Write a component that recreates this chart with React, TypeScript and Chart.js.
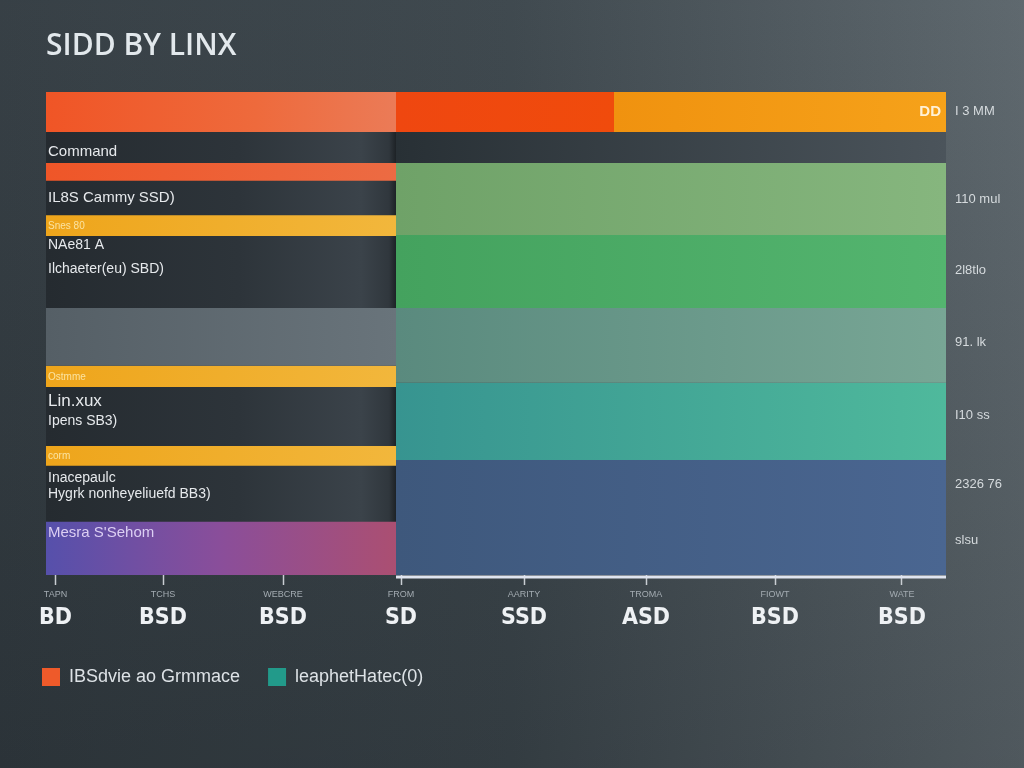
import React, { useEffect, useRef } from 'react';
import { Chart, registerables } from 'chart.js';

Chart.register(...registerables);

// ---------- data ----------
const chartTitle = 'SIDD BY LINX';

const xMin = 0;
const xMax = 90;
const yMin = 0;
const yMax = 100;

// bottom axis ticks
const xTickValues = [0.95, 11.7, 23.7, 35.5, 47.8, 60.0, 72.9, 85.6];
const xSubLabels = ['TAPN', 'TCHS', 'WEBCRE', 'FROM', 'AARITY', 'TROMA', 'FIOWT', 'WATE'];
const xMainLabels = ['BD', 'BSD', 'BSD', 'SD', 'SSD', 'ASD', 'BSD', 'BSD'];

// panels (x extents)
const leftPanelRange = [0, 35];
const rightPanelRange = [35, 90];

// left panel bands (y extents, % of height, top = 0)
const leftBandNames = ['Top', 'Command', 'Snes 80', 'Grey', 'Ostmme', 'corm', 'Mesra'];
const leftBandFrom = [0, 14.7, 25.5, 44.7, 56.7, 73.3, 89.0];
const leftBandTo = [8.3, 18.4, 29.8, 56.7, 61.1, 77.4, 100];

// right panel bands
const rightBandNames = ['IBS', 'IBS 2', 'Dark', '110 mul', '2l8tlo', '91. lk', 'I10 ss', '2326 76'];
const rightBandXFrom = [35, 56.8, 35, 35, 35, 35, 35, 35];
const rightBandXTo = [56.8, 90, 90, 90, 90, 90, 90, 90];
const rightBandFrom = [0, 0, 8.3, 14.7, 29.6, 44.7, 60.2, 76.2];
const rightBandTo = [8.3, 8.3, 14.7, 29.6, 44.7, 60.2, 76.2, 100];

// left labels
const leftLabels = [
  'Command',
  'IL8S Cammy SSD)',
  'Snes 80',
  'NAe81 A',
  'Ilchaeter(eu) SBD)',
  'Ostmme',
  'Lin.xux',
  'Ipens SB3)',
  'corm',
  'Inacepaulc',
  'Hygrk nonheyeliuefd BB3)',
  "Mesra S'Sehom",
];
const leftLabelRows = [12.3, 21.9, 27.7, 31.7, 36.6, 59.0, 64.0, 68.1, 75.4, 79.9, 83.2, 91.3];

// right labels
const rightLabels = ['I 3 MM', '110 mul', '2l8tlo', '91. lk', 'I10 ss', '2326 76', 'slsu'];
const rightLabelRows = [4.1, 22.2, 36.9, 51.8, 66.9, 81.2, 92.8];

const topBarInnerLabel = 'DD';
const baselineRange = [35, 90];
const baselineValue = 100.4;

const legendLabels = ['IBSdvie ao Grmmace', 'leaphetHatec(0)'];

// ---------- styles ----------
type Stop = [number, string];
const leftBaseStops: Stop[] = [[0, '#252b30'], [0.55, '#2d343a'], [0.9, '#3b434a'], [0.98, '#30373d'], [1, '#1d2226']];
const leftBandStops: Stop[][] = [
  [[0, '#f05526'], [0.6, '#ee6a3c'], [1, '#eb7b57']],
  [[0, '#ef5628'], [1, '#ec6b43']],
  [[0, '#eea51b'], [1, '#f2b73c']],
  [[0, '#555f66'], [1, '#69747b']],
  [[0, '#eea51b'], [1, '#f2b73c']],
  [[0, '#eea51b'], [1, '#f2b73c']],
  [[0, '#5650ab'], [0.5, '#8a4e9a'], [1, '#ab4f72']],
];
const rightBandStops: Stop[][] = [
  [[0, '#ef4710'], [1, '#f04b0c']],
  [[0, '#f0920f'], [1, '#f6a21a']],
  [[0, '#283035'], [1, '#4b545b']],
  [[0, '#6fa268'], [1, '#86b67e']],
  [[0, '#44a25e'], [1, '#54b56f']],
  [[0, '#5a8a7e'], [1, '#78a695']],
  [[0, '#379490'], [1, '#4fb99c']],
  [[0, '#3e587c'], [1, '#4a6691']],
];
const legendColors = ['#ee5a2a', '#229a8a'];
const smallLabelIdx = [2, 5, 8];
const leftLabelSizes = [15, 15, 10, 14, 14, 10, 17, 14, 10, 14, 14, 15];

const FAMILY = "'Liberation Sans', Arial, sans-serif";

const grad = (x0: number, x1: number, stops: Stop[]) => (ctx: any) => {
  const chart = ctx.chart;
  const xs = chart.scales && chart.scales.x;
  if (!chart.chartArea || !xs) return stops[0][1];
  const g = chart.ctx.createLinearGradient(xs.getPixelForValue(x0), 0, xs.getPixelForValue(x1), 0);
  stops.forEach(([o, c]) => g.addColorStop(o, c));
  return g;
};

const rect = (label: string, x0: number, x1: number, y0: number, y1: number, stops: Stop[], order = 0) => ({
  type: 'line' as const,
  label,
  data: [
    { x: x0, y: y1 },
    { x: x1, y: y1 },
  ],
  fill: { value: y0 },
  backgroundColor: grad(x0, x1, stops),
  borderColor: 'rgba(0,0,0,0)',
  borderWidth: 0,
  pointRadius: 0,
  pointHoverRadius: 0,
  tension: 0,
  order,
  xAxisID: 'x',
  yAxisID: 'y',
});

const innerLabelPlugin = {
  id: 'innerLabel',
  afterDatasetsDraw(chart: any) {
    const { ctx, scales } = chart;
    const x = scales.x;
    const y = scales.y;
    ctx.save();
    ctx.font = `bold 15px ${FAMILY}`;
    ctx.fillStyle = '#fff1d6';
    ctx.textAlign = 'right';
    ctx.textBaseline = 'middle';
    ctx.fillText(topBarInnerLabel, x.getPixelForValue(xMax) - 5, y.getPixelForValue(rightLabelRows[0]));
    ctx.restore();
  },
};

export default function App() {
  const ref = useRef<HTMLCanvasElement | null>(null);

  useEffect(() => {
    if (!ref.current) return;
    Chart.defaults.font.family = FAMILY;

    const datasets: any[] = [];
    leftBandNames.forEach((n, i) => {
      datasets.push(rect(n, leftPanelRange[0], leftPanelRange[1], leftBandFrom[i], leftBandTo[i], leftBandStops[i]));
    });
    rightBandNames.forEach((n, i) => {
      datasets.push(rect(n, rightBandXFrom[i], rightBandXTo[i], rightBandFrom[i], rightBandTo[i], rightBandStops[i]));
    });
    datasets.push(rect('Left panel', leftPanelRange[0], leftPanelRange[1], yMin, yMax, leftBaseStops, 5));
    datasets.push({
      type: 'line',
      label: 'Baseline',
      data: [
        { x: baselineRange[0], y: baselineValue },
        { x: baselineRange[1], y: baselineValue },
      ],
      borderColor: '#dfe4ef',
      borderWidth: 3,
      pointRadius: 0,
      fill: false,
      order: -1,
      clip: 6,
      xAxisID: 'x',
      yAxisID: 'y',
    });

    const chart = new Chart(ref.current, {
      type: 'line',
      data: { datasets },
      plugins: [innerLabelPlugin],
      options: {
        animation: false,
        responsive: false,
        maintainAspectRatio: false,
        events: [],
        layout: { padding: { left: 14, right: 0, top: 0, bottom: 72 } },
        plugins: {
          title: {
            display: true,
            text: chartTitle,
            align: 'start',
            fullSize: false,
            color: '#e2e8ec',
            font: { family: "'Open Sans', 'Liberation Sans', sans-serif", size: 30, weight: '600' },
            padding: { top: 28, bottom: 28 },
          },
          legend: {
            display: true,
            position: 'bottom',
            align: 'start',
            fullSize: true,
            labels: {
              boxWidth: 18,
              boxHeight: 18,
              padding: 28,
              color: '#dde2e6',
              font: { family: FAMILY, size: 18 },
              generateLabels: () =>
                legendLabels.map((t, i) => ({
                  text: t,
                  fillStyle: legendColors[i],
                  strokeStyle: 'rgba(0,0,0,0)',
                  lineWidth: 0,
                  hidden: false,
                  datasetIndex: i,
                  fontColor: '#dde2e6',
                })),
            },
          },
          tooltip: { enabled: false },
        },
        scales: {
          x: {
            type: 'linear',
            position: 'bottom',
            min: xMin,
            max: xMax,
            weight: 0,
            afterBuildTicks: (a: any) => {
              a.ticks = xTickValues.map((v) => ({ value: v }));
            },
            afterFit: (s: any) => {
              s.height = 26;
            },
            grid: { display: true, drawOnChartArea: false, drawTicks: true, tickLength: 10, tickColor: '#c9ced3', tickWidth: 1.5 },
            border: { display: false },
            ticks: {
              autoSkip: false,
              maxRotation: 0,
              padding: 4,
              color: '#a3abb1',
              font: { size: 9, family: FAMILY },
              callback: (_v: any, i: number) => xSubLabels[i],
            },
          },
          x2: {
            type: 'linear',
            position: 'bottom',
            min: xMin,
            max: xMax,
            weight: 1,
            afterBuildTicks: (a: any) => {
              a.ticks = xTickValues.map((v) => ({ value: v }));
            },
            afterFit: (s: any) => {
              s.height = 39;
            },
            grid: { display: false },
            border: { display: false },
            ticks: {
              autoSkip: false,
              maxRotation: 0,
              padding: -5,
              color: '#eef1f4',
              font: { size: 23, weight: 'bold', family: "'Liberation Sans Narrow', 'DejaVu Sans Condensed', 'Liberation Sans', sans-serif" },
              callback: (_v: any, i: number) => xMainLabels[i],
            },
          },
          y: {
            type: 'linear',
            position: 'left',
            min: yMin,
            max: yMax,
            reverse: true,
            afterBuildTicks: (a: any) => {
              a.ticks = leftLabelRows.map((v) => ({ value: v }));
            },
            afterFit: (s: any) => {
              s.width = 32;
            },
            grid: { display: false },
            border: { display: false },
            ticks: {
              z: 1,
              mirror: true,
              crossAlign: 'near',
              padding: 2,
              autoSkip: false,
              callback: (_v: any, i: number) => leftLabels[i],
              font: (c: any) => ({ size: leftLabelSizes[c.index] ?? 14, family: FAMILY }),
              color: (c: any) =>
                smallLabelIdx.includes(c.index) ? '#fbe3a0' : c.index === leftLabels.length - 1 ? '#dccff3' : '#e6e9ec',
            },
          },
          y2: {
            type: 'linear',
            position: 'right',
            min: yMin,
            max: yMax,
            reverse: true,
            afterBuildTicks: (a: any) => {
              a.ticks = rightLabelRows.map((v) => ({ value: v }));
            },
            afterFit: (s: any) => {
              s.width = 78;
            },
            grid: { display: false },
            border: { display: false },
            ticks: {
              padding: 1,
              autoSkip: false,
              color: '#d5dadd',
              font: { size: 13, family: FAMILY },
              callback: (_v: any, i: number) => rightLabels[i],
            },
          },
        },
      } as any,
    } as any);

    return () => chart.destroy();
  }, []);

  return (
    <div
      style={{
        position: 'fixed',
        left: 0,
        top: 0,
        width: 1024,
        height: 768,
        background:
          'linear-gradient(180deg, rgba(255,255,255,0.03) 0%, rgba(0,0,0,0.12) 100%), linear-gradient(90deg, #313a40 0%, #3a444a 50%, #5a646a 100%)',
      }}
    >
      <canvas ref={ref} width={1024} height={768} style={{ display: 'block', width: 1024, height: 768 }} />
    </div>
  );
}
